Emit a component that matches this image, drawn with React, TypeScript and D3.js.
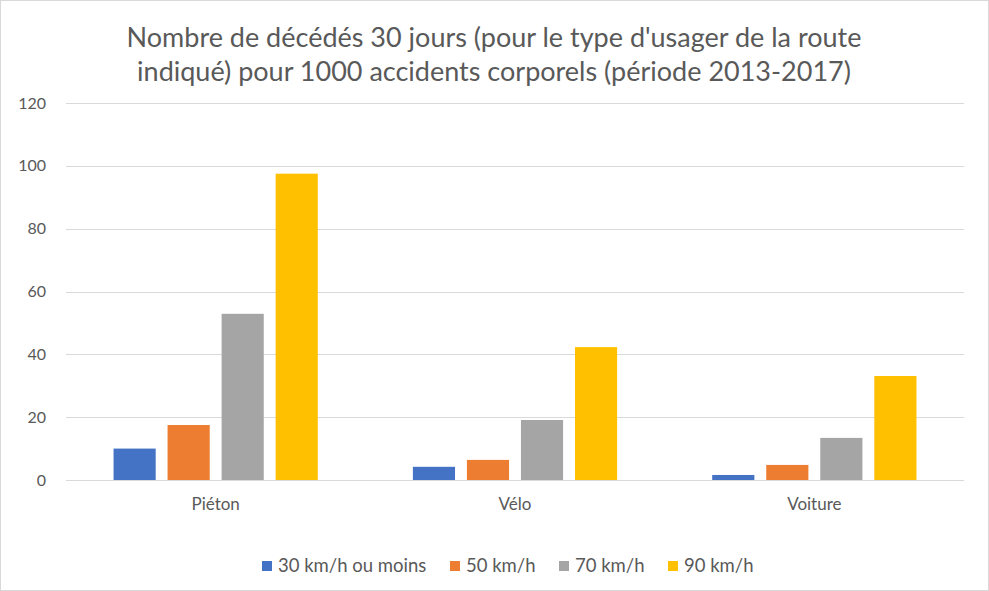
import React, { useEffect, useRef } from "react";
import * as d3 from "d3";

const categories = ["Piéton", "Vélo", "Voiture"];
const seriesNames = ["30 km/h ou moins", "50 km/h", "70 km/h", "90 km/h"];
const seriesColors = ["#4472C4", "#ED7D31", "#A5A5A5", "#FFC000"];
const speed30 = [10, 4.2, 1.6];
const speed50 = [17.5, 6.4, 4.8];
const speed70 = [52.9, 19.1, 13.4];
const speed90 = [97.5, 42.3, 33.1];
const yTicks = [0, 20, 40, 60, 80, 100, 120];
const titleLines = [
  "Nombre de décédés 30 jours (pour le type d'usager de la route",
  "indiqué) pour 1000 accidents corporels (période 2013-2017)",
];

const W = 989;
const H = 591;
const FONT = "Lato, 'Open Sans', sans-serif";

export default function App() {
  const ref = useRef<SVGSVGElement>(null);

  useEffect(() => {
    if (!ref.current) return;
    document.body.style.margin = "0";
    const svg = d3.select(ref.current);
    svg.selectAll("*").remove();

    const series = [speed30, speed50, speed70, speed90];
    const left = 66;
    const right = 964;
    const top = 103;
    const bottom = 480;

    svg
      .append("rect")
      .attr("x", 0.5)
      .attr("y", 0.5)
      .attr("width", W - 1)
      .attr("height", H - 1)
      .attr("fill", "#fff")
      .attr("stroke", "#d9d9d9");

    const x0 = d3.scaleBand().domain(categories).range([left, right]);
    const x1 = d3
      .scaleBand()
      .domain(seriesNames)
      .range([0, x0.bandwidth()])
      .paddingInner(0.22)
      .paddingOuter(0.88);
    const y = d3.scaleLinear().domain([0, 120]).range([bottom, top]);

    // gridlines
    svg
      .append("g")
      .selectAll("line")
      .data(yTicks)
      .enter()
      .append("line")
      .attr("x1", left)
      .attr("x2", right)
      .attr("y1", (d) => Math.round(y(d)) + 0.5)
      .attr("y2", (d) => Math.round(y(d)) + 0.5)
      .attr("stroke", "#d9d9d9")
      .attr("stroke-width", 1);

    // y tick labels
    svg
      .append("g")
      .selectAll("text")
      .data(yTicks)
      .enter()
      .append("text")
      .attr("x", 46)
      .attr("y", (d) => y(d))
      .attr("dy", "0.35em")
      .attr("text-anchor", "end")
      .style("font-family", FONT)
      .style("font-size", "16px")
      .style("fill", "#595959")
      .text((d) => d);

    // bars
    series.forEach((vals, si) => {
      svg
        .append("g")
        .selectAll("rect")
        .data(vals)
        .enter()
        .append("rect")
        .attr("x", (d, i) => (x0(categories[i]) as number) + (x1(seriesNames[si]) as number))
        .attr("y", (d) => y(d))
        .attr("width", x1.bandwidth())
        .attr("height", (d) => y(0) - y(d))
        .attr("fill", seriesColors[si]);
    });

    // baseline over bars
    svg
      .append("line")
      .attr("x1", left)
      .attr("x2", right)
      .attr("y1", Math.round(y(0)) + 0.5)
      .attr("y2", Math.round(y(0)) + 0.5)
      .attr("stroke", "#d9d9d9");

    // category labels
    svg
      .append("g")
      .selectAll("text")
      .data(categories)
      .enter()
      .append("text")
      .attr("x", (d) => (x0(d) as number) + x0.bandwidth() / 2)
      .attr("y", 504)
      .attr("dy", "0.35em")
      .attr("text-anchor", "middle")
      .style("font-family", FONT)
      .style("font-size", "17px")
      .style("fill", "#595959")
      .text((d) => d);

    // title
    svg
      .append("g")
      .selectAll("text")
      .data(titleLines)
      .enter()
      .append("text")
      .attr("x", 494)
      .attr("y", (d, i) => 38 + i * 34)
      .attr("dy", "0.35em")
      .attr("text-anchor", "middle")
      .style("font-family", FONT)
      .style("font-size", "27px")
      .style("fill", "#595959")
      .text((d) => d);

    // legend
    const legendX = [262, 450, 559, 668];
    const legend = svg.append("g");
    seriesNames.forEach((name, i) => {
      legend
        .append("rect")
        .attr("x", legendX[i])
        .attr("y", 561)
        .attr("width", 10)
        .attr("height", 10)
        .attr("fill", seriesColors[i]);
      legend
        .append("text")
        .attr("x", legendX[i] + 16)
        .attr("y", 566)
        .attr("dy", "0.35em")
        .style("font-family", FONT)
        .style("font-size", "18.5px")
        .style("fill", "#595959")
        .text(name);
    });
  }, []);

  return <svg ref={ref} width={W} height={H} style={{ display: "block" }} />;
}
